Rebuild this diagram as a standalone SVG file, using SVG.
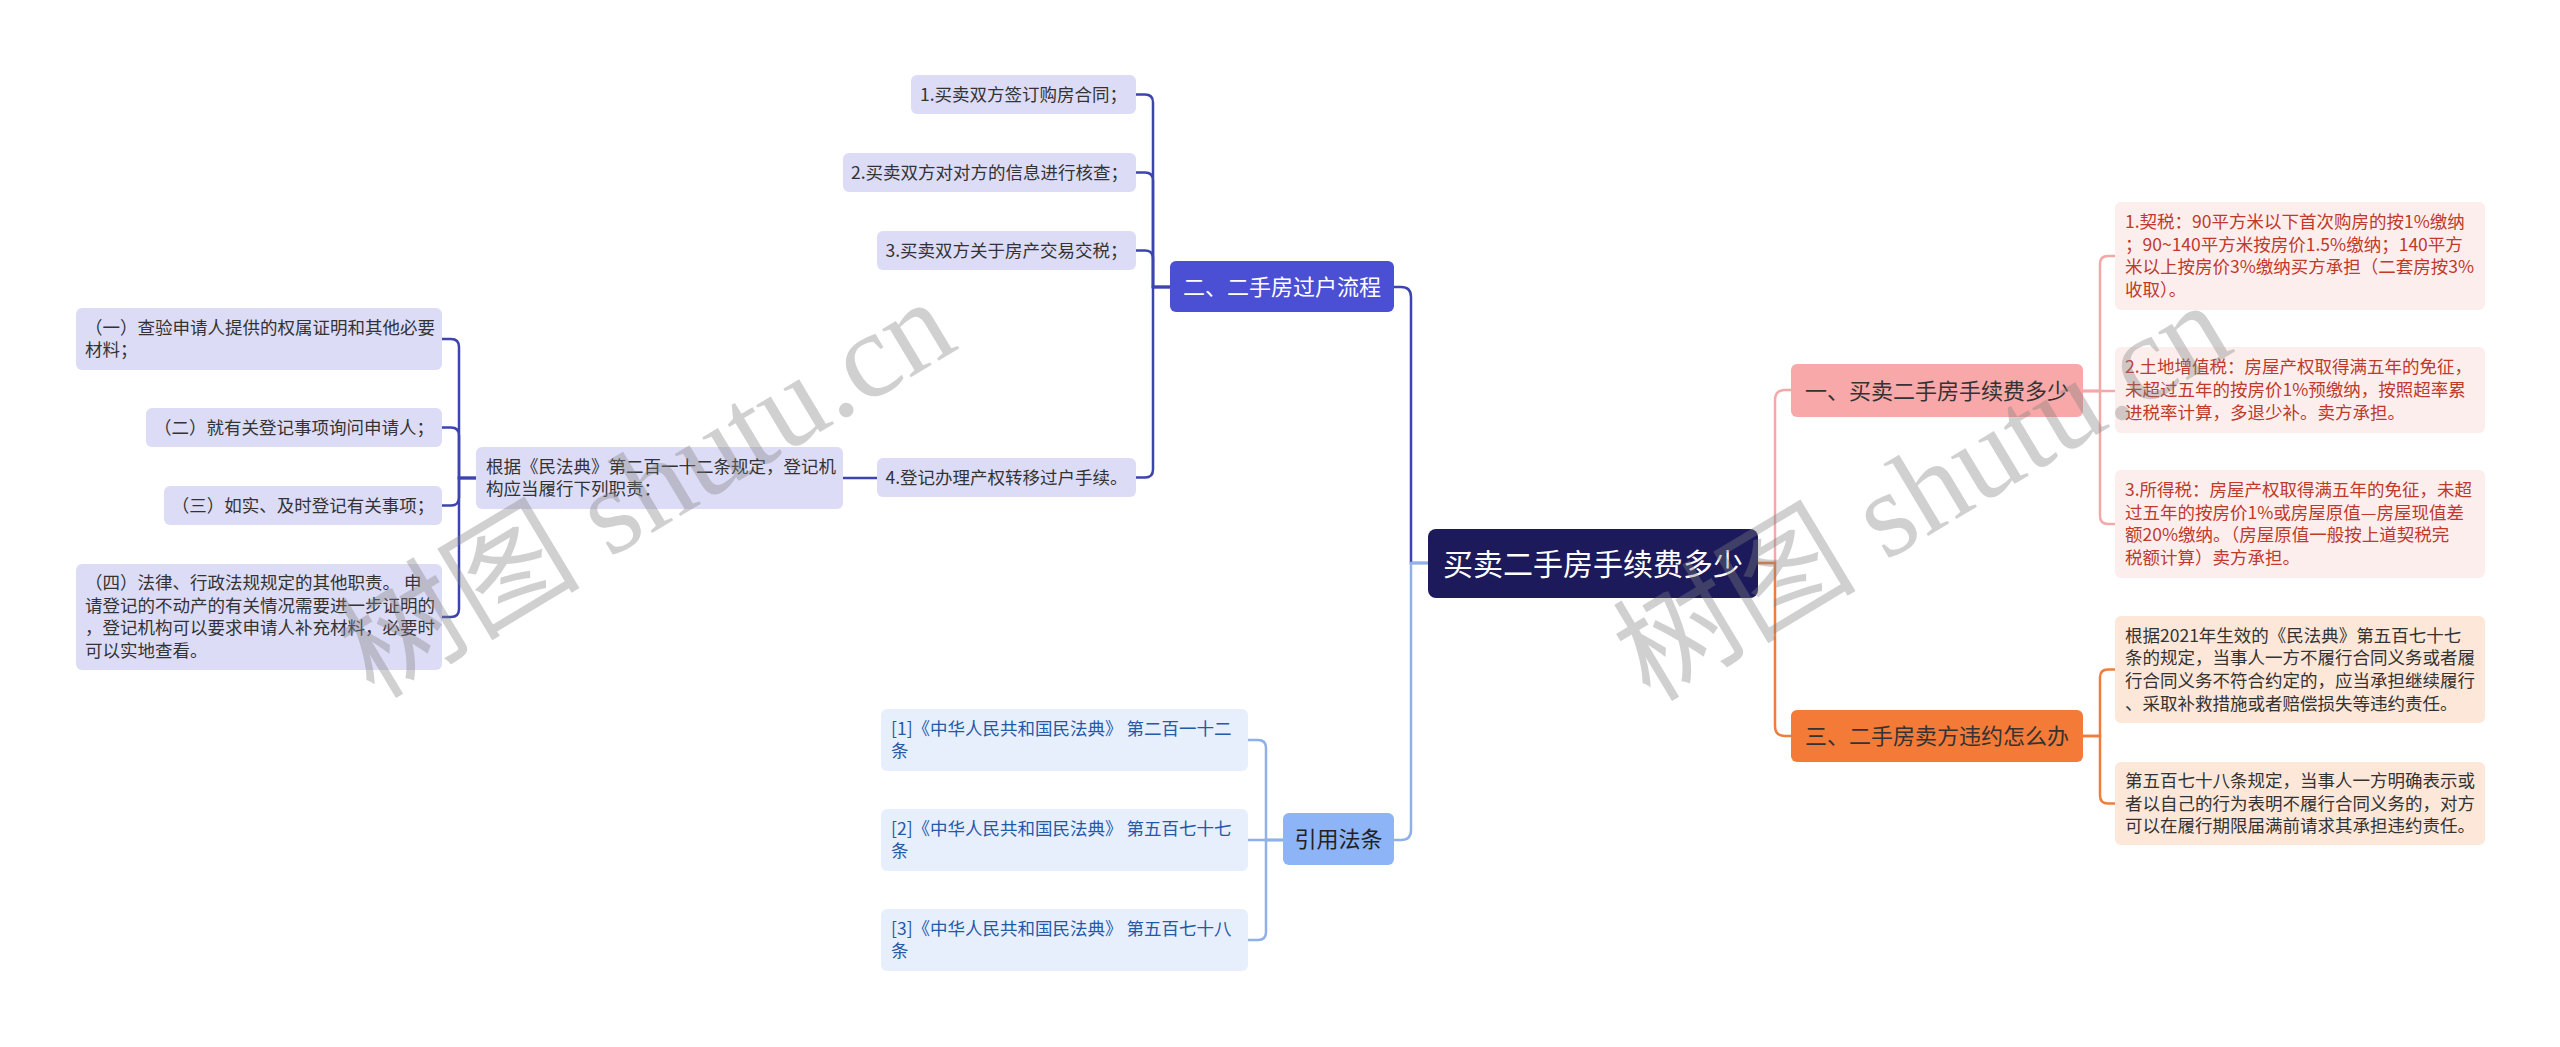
<svg xmlns="http://www.w3.org/2000/svg" width="2560" height="1047" viewBox="0 0 2560 1047">
<style>
text{font-family:"Noto Sans CJK SC","Microsoft YaHei",sans-serif}
.t{font-size:17.5px}
.m{font-size:22px}
.c{text-anchor:middle}
.ln{fill:none;stroke-width:2.5;stroke-linecap:round}
.dk{stroke:#3d44b0}
.lb{stroke:#8fb1e9}
.pk{stroke:#f2a9a8}
.or{stroke:#f07c3e}
.lv{fill:#dddcf7}
.lvt{fill:#333}
.bl{fill:#e8effc}
.blt{fill:#2459a8}
.pl{fill:#fdeeee}
.plt{fill:#c0392b}
.ol{fill:#fde7d9}
.olt{fill:#333}
.wm{font-family:"Liberation Serif","Noto Sans CJK SC",serif;font-size:122px;fill:#808080;opacity:0.36}
</style>
<rect width="2560" height="1047" fill="#ffffff"/>
<g id="connectors">
<path class="ln dk" d="M1428 563 H1411 V297 Q1411 287 1401 287 H1394"/>
<path class="ln lb" d="M1428 563 H1411 V830 Q1411 840 1401 840 H1394"/>
<path class="ln pk" d="M1758 563 H1775 V400 Q1775 390 1785 390 H1791"/>
<path class="ln or" d="M1758 563 H1775 V726 Q1775 736 1785 736 H1791"/>
<path class="ln dk" d="M1170 287 H1153 V102.5 Q1153 94.5 1145 94.5 H1136"/>
<path class="ln dk" d="M1170 287 H1153 V180.5 Q1153 172.5 1145 172.5 H1136"/>
<path class="ln dk" d="M1170 287 H1153 V258.5 Q1153 250.5 1145 250.5 H1136"/>
<path class="ln dk" d="M1170 287 H1153 V469.5 Q1153 477.5 1145 477.5 H1136"/>
<path class="ln dk" d="M877 478 H843"/>
<path class="ln dk" d="M476 478 H459 V347 Q459 339 451 339 H442"/>
<path class="ln dk" d="M476 478 H459 V435.5 Q459 427.5 451 427.5 H442"/>
<path class="ln dk" d="M476 478 H459 V497.5 Q459 505.5 451 505.5 H442"/>
<path class="ln dk" d="M476 478 H459 V609 Q459 617 451 617 H442"/>
<path class="ln lb" d="M1283 840 H1266 V748 Q1266 740 1258 740 H1248"/>
<path class="ln lb" d="M1283 840 H1248"/>
<path class="ln lb" d="M1283 840 H1266 V932 Q1266 940 1258 940 H1248"/>
<path class="ln pk" d="M2083 391 H2100 V264 Q2100 256 2108 256 H2115"/>
<path class="ln pk" d="M2083 391 H2115"/>
<path class="ln pk" d="M2083 391 H2100 V516 Q2100 524 2108 524 H2115"/>
<path class="ln or" d="M2083 736 H2100 V677.5 Q2100 669.5 2108 669.5 H2115"/>
<path class="ln or" d="M2083 736 H2100 V795.5 Q2100 803.5 2108 803.5 H2115"/>
</g>
<g id="root">
<rect x="1428" y="529" width="330" height="69" rx="8" fill="#1d1a5b"/>
<text x="1593" y="574.5" class="c" font-size="30" fill="#ffffff">买卖二手房手续费多少</text>
</g>
<g id="b1">
<rect x="1170" y="261" width="224" height="51" rx="6" fill="#4a4fd4"/>
<text x="1282" y="295" class="m c" fill="#ffffff">二、二手房过户流程</text>
</g>
<g id="b2">
<rect x="1283" y="813" width="111" height="52" rx="6" fill="#8cb4f6"/>
<text x="1338.5" y="847" class="m c" fill="#222">引用法条</text>
</g>
<g id="b3">
<rect x="1791" y="364" width="292" height="53" rx="6" fill="#f8a8a8"/>
<text x="1937" y="398.5" class="m c" fill="#333">一、买卖二手房手续费多少</text>
</g>
<g id="b4">
<rect x="1791" y="710" width="292" height="52" rx="6" fill="#f47a37"/>
<text x="1937" y="744" class="m c" fill="#333">三、二手房卖方违约怎么办</text>
</g>
<g id="l1"><rect x="911" y="75" width="225" height="39" rx="6" class="lv"/><text x="1023.5" y="100.5" class="t c lvt">1.买卖双方签订购房合同；</text></g>
<g id="l2"><rect x="843" y="153" width="293" height="39" rx="6" class="lv"/><text x="989.5" y="178.5" class="t c lvt">2.买卖双方对对方的信息进行核查；</text></g>
<g id="l3"><rect x="877" y="231" width="259" height="39" rx="6" class="lv"/><text x="1006.5" y="256.5" class="t c lvt">3.买卖双方关于房产交易交税；</text></g>
<g id="l4"><rect x="877" y="458" width="259" height="39" rx="6" class="lv"/><text x="1006.5" y="483.5" class="t c lvt">4.登记办理产权转移过户手续。</text></g>
<g id="p1"><rect x="476" y="447" width="367" height="62" rx="6" class="lv"/><text class="t lvt"><tspan x="486" y="472.7">根据《民法典》第二百一十二条规定，登记机</tspan><tspan x="486" y="495.4">构应当履行下列职责：</tspan></text></g>
<g id="s1"><rect x="76" y="308" width="366" height="62" rx="6" class="lv"/><text class="t lvt"><tspan x="85" y="333.7">（一）查验申请人提供的权属证明和其他必要</tspan><tspan x="85" y="356.4">材料；</tspan></text></g>
<g id="s2"><rect x="146" y="408" width="296" height="39" rx="6" class="lv"/><text x="294" y="433.5" class="t c lvt">（二）就有关登记事项询问申请人；</text></g>
<g id="s3"><rect x="164" y="486" width="278" height="39" rx="6" class="lv"/><text x="303" y="511.5" class="t c lvt">（三）如实、及时登记有关事项；</text></g>
<g id="s4"><rect x="76" y="564" width="366" height="106" rx="6" class="lv"/><text class="t lvt"><tspan x="85" y="589">（四）法律、行政法规规定的其他职责。 申</tspan><tspan x="85" y="611.7">请登记的不动产的有关情况需要进一步证明的</tspan><tspan x="85" y="634.4">，登记机构可以要求申请人补充材料，必要时</tspan><tspan x="85" y="657.1">可以实地查看。</tspan></text></g>
<g id="c1"><rect x="881" y="709" width="367" height="62" rx="6" class="bl"/><text class="t blt"><tspan x="891" y="734.7">[1]《中华人民共和国民法典》 第二百一十二</tspan><tspan x="891" y="757.4">条</tspan></text></g>
<g id="c2"><rect x="881" y="809" width="367" height="62" rx="6" class="bl"/><text class="t blt"><tspan x="891" y="834.7">[2]《中华人民共和国民法典》 第五百七十七</tspan><tspan x="891" y="857.4">条</tspan></text></g>
<g id="c3"><rect x="881" y="909" width="367" height="62" rx="6" class="bl"/><text class="t blt"><tspan x="891" y="934.7">[3]《中华人民共和国民法典》 第五百七十八</tspan><tspan x="891" y="957.4">条</tspan></text></g>
<g id="r1"><rect x="2115" y="202" width="370" height="108" rx="6" class="pl"/><text class="t plt"><tspan x="2125" y="228">1.契税：90平方米以下首次购房的按1%缴纳</tspan><tspan x="2125" y="250.7">；90~140平方米按房价1.5%缴纳；140平方</tspan><tspan x="2125" y="273.4">米以上按房价3%缴纳买方承担（二套房按3%</tspan><tspan x="2125" y="296.1">收取）。</tspan></text></g>
<g id="r2"><rect x="2115" y="347" width="370" height="86" rx="6" class="pl"/><text class="t plt"><tspan x="2125" y="373.3">2.土地增值税：房屋产权取得满五年的免征，</tspan><tspan x="2125" y="396">未超过五年的按房价1%预缴纳，按照超率累</tspan><tspan x="2125" y="418.7">进税率计算，多退少补。卖方承担。</tspan></text></g>
<g id="r3"><rect x="2115" y="470" width="370" height="108" rx="6" class="pl"/><text class="t plt"><tspan x="2125" y="496">3.所得税：房屋产权取得满五年的免征，未超</tspan><tspan x="2125" y="518.7">过五年的按房价1%或房屋原值—房屋现值差</tspan><tspan x="2125" y="541.4">额20%缴纳。（房屋原值一般按上道契税完</tspan><tspan x="2125" y="564.1">税额计算）卖方承担。</tspan></text></g>
<g id="r4"><rect x="2115" y="616" width="370" height="107" rx="6" class="ol"/><text class="t olt"><tspan x="2125" y="641.5">根据2021年生效的《民法典》第五百七十七</tspan><tspan x="2125" y="664.2">条的规定，当事人一方不履行合同义务或者履</tspan><tspan x="2125" y="686.9">行合同义务不符合约定的，应当承担继续履行</tspan><tspan x="2125" y="709.6">、采取补救措施或者赔偿损失等违约责任。</tspan></text></g>
<g id="r5"><rect x="2115" y="762" width="370" height="83" rx="6" class="ol"/><text class="t olt"><tspan x="2125" y="786.8">第五百七十八条规定，当事人一方明确表示或</tspan><tspan x="2125" y="809.5">者以自己的行为表明不履行合同义务的，对方</tspan><tspan x="2125" y="832.2">可以在履行期限届满前请求其承担违约责任。</tspan></text></g>
<g id="watermark">
<text class="wm" transform="translate(374 700) rotate(-31)">树图 shutu.cn</text>
<text class="wm" transform="translate(1650 703) rotate(-31)">树图 shutu.cn</text>
</g>
</svg>
